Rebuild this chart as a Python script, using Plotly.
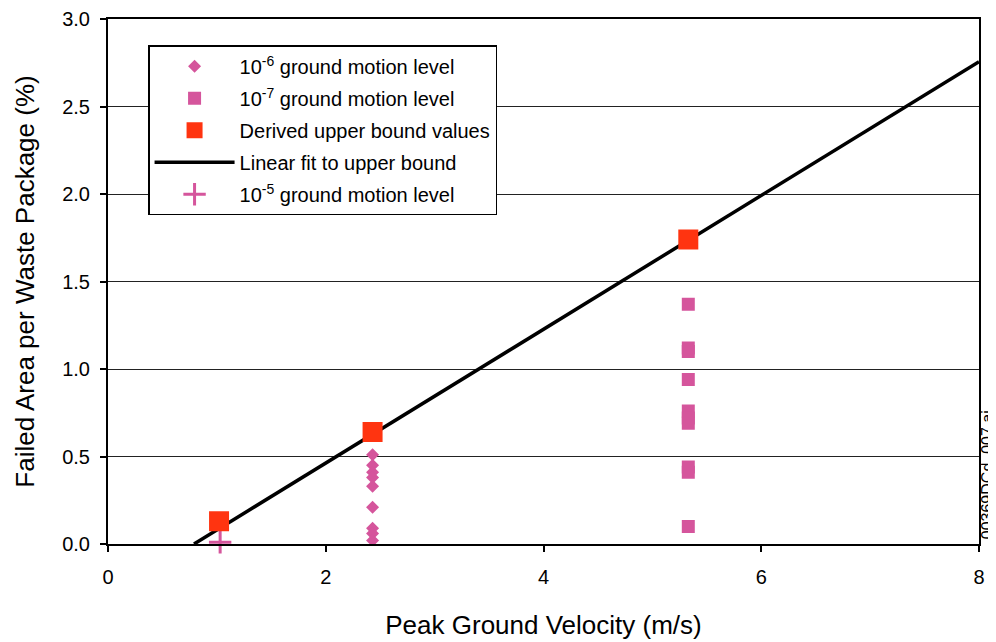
import plotly.graph_objects as go

# ---- data ----
x_1e6 = [2.43] * 9
y_1e6 = [0.51, 0.45, 0.41, 0.38, 0.33, 0.21, 0.09, 0.06, 0.02]

x_1e7 = [5.33] * 10
y_1e7 = [1.37, 1.12, 1.10, 0.94, 0.76, 0.72, 0.69, 0.44, 0.41, 0.10]

x_upper = [1.02, 2.43, 5.33]
y_upper = [0.13, 0.64, 1.74]

x_fit = [0.79, 8.0]
y_fit = [0.0, 2.756]

x_1e5 = [1.03]
y_1e5 = [0.01]

x_ticks = [0, 2, 4, 6, 8]
y_ticks = [0.0, 0.5, 1.0, 1.5, 2.0, 2.5, 3.0]

PINK = "#d5559c"
ORANGE = "#ff3410"
FONT = "Liberation Sans, Arial, sans-serif"

fig = go.Figure()

fig.add_trace(go.Scatter(
    x=x_fit, y=y_fit, mode="lines", name="Linear fit to upper bound",
    line=dict(color="black", width=3.5), legendrank=4, legendgroup="fit"))
fig.add_trace(go.Scatter(
    x=x_1e6, y=y_1e6, mode="markers", name="10<sup>-6</sup> ground motion level",
    marker=dict(symbol="diamond", size=10, color=PINK), legendrank=1,
    legendgroup="g6"))
fig.add_trace(go.Scatter(
    x=x_1e7, y=y_1e7, mode="markers", name="10<sup>-7</sup> ground motion level",
    marker=dict(symbol="square", size=13, color=PINK), legendrank=2,
    legendgroup="g7"))
fig.add_trace(go.Scatter(
    x=x_1e5, y=y_1e5, mode="markers", name="10<sup>-5</sup> ground motion level",
    marker=dict(symbol="cross-thin", size=16, color=PINK,
                line=dict(color=PINK, width=3)), legendrank=5, cliponaxis=False,
    legendgroup="g5"))
fig.add_trace(go.Scatter(
    x=x_upper, y=y_upper, mode="markers", name="Derived upper bound values",
    marker=dict(symbol="square", size=20, color=ORANGE), legendrank=3,
    legendgroup="up"))

# page body has an 8px margin, so the figure is offset by 8px right/down;
# size it so it fits inside the 996x642 window
fig.update_layout(
    width=988, height=634,
    margin=dict(l=100, r=17, t=11, b=98, autoexpand=False),
    paper_bgcolor="white", plot_bgcolor="white",
    font=dict(family=FONT, color="black", size=20),
    showlegend=True,
    legend=dict(
        x=0.046, y=0.95, xanchor="left", yanchor="top",
        bgcolor="white", bordercolor="black", borderwidth=1.5,
        font=dict(size=20, family=FONT), itemwidth=80,
        traceorder="grouped", tracegroupgap=3,
    ),
    xaxis=dict(
        range=[0, 8], tickvals=x_ticks, ticktext=[str(v) for v in x_ticks],
        showgrid=False, zeroline=False, automargin=False,
        showline=True, linecolor="black", linewidth=2, mirror=True,
        ticks="outside", ticklen=6, tickwidth=1.5, tickcolor="black",
        ticklabelstandoff=8,
        tickfont=dict(size=20, family=FONT),
        title=dict(text="Peak Ground Velocity (m/s)", standoff=29,
                   font=dict(size=26, family=FONT)),
    ),
    yaxis=dict(
        range=[0, 3], tickvals=y_ticks, ticktext=[f"{v:.1f}" for v in y_ticks],
        showgrid=True, gridcolor="#222222", gridwidth=1.2, zeroline=False,
        automargin=False,
        showline=True, linecolor="black", linewidth=2, mirror=True,
        ticks="outside", ticklen=6, tickwidth=1.5, tickcolor="black",
        ticklabelstandoff=6,
        tickfont=dict(size=20, family=FONT),
        title=dict(text="Failed Area per Waste Package (%)", standoff=20,
                   font=dict(size=26, family=FONT)),
    ),
)

fig.add_annotation(
    text="00369DCd_007.ai", xref="paper", yref="paper",
    x=1.0, y=0.131, xshift=9, xanchor="center", yanchor="middle",
    textangle=-90, showarrow=False, font=dict(size=16, family=FONT))

fig.write_html("out.html")
